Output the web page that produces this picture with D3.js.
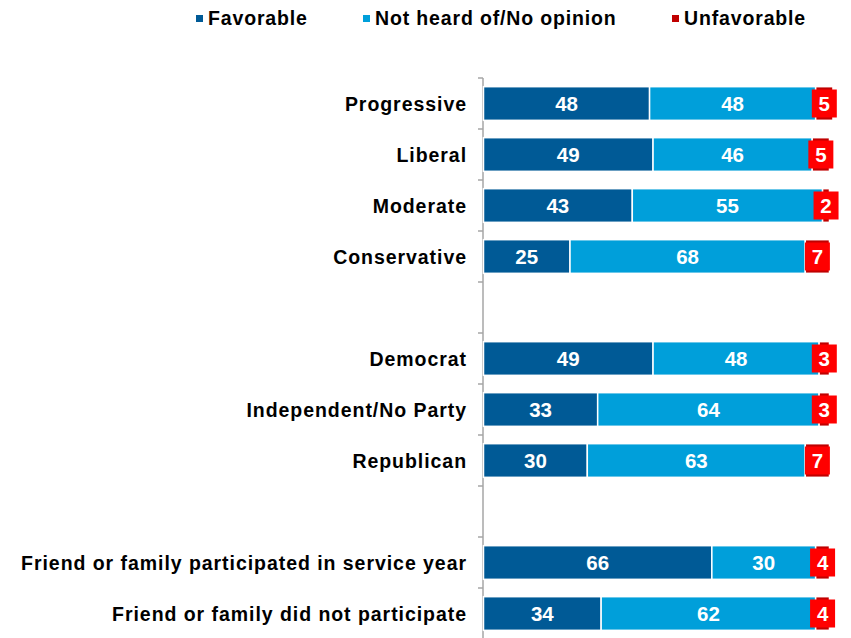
<!DOCTYPE html>
<html>
<head>
<meta charset="utf-8">
<script src="https://cdn.jsdelivr.net/npm/d3@7"></script>
<style>
  html, body { margin: 0; padding: 0; background: #fff; }
  svg { display: block; font-family: "Liberation Sans", Arial, sans-serif; }
</style>
</head>
<body>
<svg id="chart" width="851" height="638"></svg>
<script>
// Groups of respondents; empty strings are spacer rows between blocks
const categories = [
  "Progressive", "Liberal", "Moderate", "Conservative", "",
  "Democrat", "Independent/No Party", "Republican", "",
  "Friend or family participated in service year", "Friend or family did not participate"
];
const favorable   = [48, 49, 43, 25, null, 49, 33, 30, null, 66, 34];
const notHeard    = [48, 46, 55, 68, null, 48, 64, 63, null, 30, 62];
const unfavorable = [5, 5, 2, 7, null, 3, 3, 7, null, 4, 4];
const seriesNames = ["Favorable", "Not heard of/No opinion", "Unfavorable"];
const seriesColors = ["#005A96", "#009FDA", "#C00000"];

const svg = d3.select("#chart");

const x = d3.scaleLinear().domain([0, 100]).range([483.5, 829.5]);
const y = d3.scaleBand()
  .domain(d3.range(categories.length))
  .range([78, 639])
  .paddingInner(0.34)
  .paddingOuter(0.17);

// Build stacked rows
const rows = categories.map((c, i) => ({
  cat: c,
  vals: [favorable[i], notHeard[i], unfavorable[i]]
}));

// Axis line with outward ticks at band boundaries
const axisX = 483;
const plotTop = y.range()[0];
const step = y.step();
svg.append("line")
  .attr("x1", axisX).attr("x2", axisX)
  .attr("y1", plotTop).attr("y2", 640)
  .attr("stroke", "#A6A6A6").attr("stroke-width", 1.5);
svg.selectAll(".tick")
  .data(d3.range(categories.length + 1))
  .join("line")
  .attr("class", "tick")
  .attr("x1", axisX - 5).attr("x2", axisX)
  .attr("y1", d => plotTop + d * step).attr("y2", d => plotTop + d * step)
  .attr("stroke", "#A6A6A6").attr("stroke-width", 1.5);

// Category labels
svg.selectAll(".cat")
  .data(rows)
  .join("text")
  .attr("class", "cat")
  .attr("x", axisX - 16)
  .attr("y", (d, i) => y(i) + y.bandwidth() / 2)
  .attr("dy", "0.36em")
  .attr("text-anchor", "end")
  .style("font-size", "19.5px")
  .style("font-weight", "bold")
  .style("letter-spacing", "0.95px")
  .attr("fill", "#000")
  .text(d => d.cat);

// Segments
rows.forEach((row, i) => {
  if (row.vals[0] == null) return;
  let acc = 0;
  const segs = row.vals.map((v, k) => {
    const s = { k, v, x0: acc, x1: acc + v };
    acc += v;
    return s;
  });
  const g = svg.append("g");
  g.selectAll("rect")
    .data(segs)
    .join("rect")
    .attr("x", d => x(d.x0))
    .attr("y", y(i))
    .attr("width", d => x(d.x1) - x(d.x0))
    .attr("height", y.bandwidth())
    .attr("fill", d => seriesColors[d.k])
    .attr("stroke", "#fff")
    .attr("stroke-width", 1.5);

  // Value labels inside first two segments
  g.selectAll("text.v")
    .data(segs.slice(0, 2))
    .join("text")
    .attr("class", "v")
    .attr("x", d => (x(d.x0) + x(d.x1)) / 2)
    .attr("y", y(i) + y.bandwidth() / 2)
    .attr("dy", "0.36em")
    .attr("text-anchor", "middle")
    .style("font-size", "20.5px")
    .style("font-weight", "bold")
    .attr("fill", "#fff")
    .text(d => d.v);

  // Unfavorable label in a red box
  const u = segs[2];
  const cx = (x(u.x0) + x(u.x1)) / 2;
  const cy = y(i) + y.bandwidth() / 2;
  g.append("rect")
    .attr("x", cx - 12.5).attr("y", cy - 14)
    .attr("width", 25).attr("height", 28)
    .attr("fill", "#FF0000");
  g.append("text")
    .attr("x", cx).attr("y", cy)
    .attr("dy", "0.36em")
    .attr("text-anchor", "middle")
    .style("font-size", "20.5px")
    .style("font-weight", "bold")
    .attr("fill", "#fff")
    .text(u.v);
});

// Legend
const legendX = [196, 363, 672];
const legend = svg.selectAll(".leg")
  .data(seriesNames)
  .join("g")
  .attr("class", "leg")
  .attr("transform", (d, i) => `translate(${legendX[i]},0)`);
legend.append("rect")
  .attr("x", 0).attr("y", 15)
  .attr("width", 7).attr("height", 7)
  .attr("fill", (d, i) => seriesColors[i]);
legend.append("text")
  .attr("x", 12).attr("y", 24.5)
  .style("font-size", "19.5px")
  .style("font-weight", "bold")
  .style("letter-spacing", "0.85px")
  .attr("fill", "#000")
  .text(d => d);
</script>
</body>
</html>
